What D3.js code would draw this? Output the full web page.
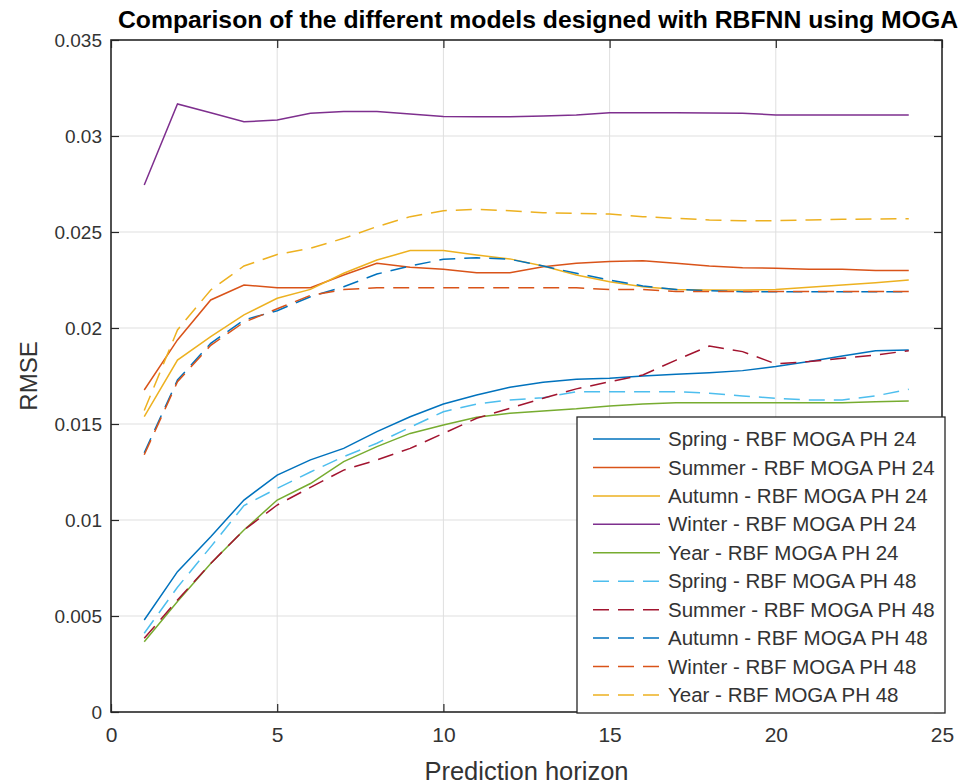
<!DOCTYPE html>
<html>
<head>
<meta charset="utf-8">
<script src="https://cdn.jsdelivr.net/npm/d3@7"></script>
<style>
  html, body { margin: 0; padding: 0; background: #fff; }
  svg { display: block; }
  text { font-family: "Liberation Sans", Arial, Helvetica, sans-serif; }
</style>
</head>
<body>
<script>
// ---------------- DATA ----------------
const horizon = [1,2,3,4,5,6,7,8,9,10,11,12,13,14,15,16,17,18,19,20,21,22,23,24];

const springPH24 = [0.00479,0.00731,0.00913,0.01104,0.01234,0.01313,0.01373,0.01460,0.01538,0.01604,0.01651,0.01691,0.01717,0.01733,0.01738,0.01750,0.01759,0.01767,0.01778,0.01799,0.01825,0.01854,0.01882,0.01885];
const summerPH24 = [0.01677,0.01938,0.02146,0.02224,0.02210,0.02210,0.02276,0.02337,0.02316,0.02306,0.02288,0.02288,0.02319,0.02337,0.02346,0.02350,0.02337,0.02323,0.02314,0.02311,0.02306,0.02306,0.02300,0.02299];
const autumnPH24 = [0.01538,0.01833,0.01955,0.02068,0.02155,0.02201,0.02285,0.02354,0.02403,0.02403,0.02380,0.02360,0.02323,0.02276,0.02241,0.02215,0.02201,0.02198,0.02198,0.02200,0.02212,0.02224,0.02236,0.02250];
const winterPH24 = [0.02745,0.03167,0.03121,0.03074,0.03083,0.03118,0.03127,0.03127,0.03115,0.03101,0.03100,0.03100,0.03104,0.03110,0.03121,0.03121,0.03121,0.03120,0.03118,0.03110,0.03110,0.03110,0.03110,0.03110];
const yearPH24   = [0.00366,0.00575,0.00774,0.00948,0.01104,0.01190,0.01304,0.01382,0.01451,0.01495,0.01535,0.01556,0.01568,0.01579,0.01594,0.01604,0.01611,0.01611,0.01611,0.01611,0.01611,0.01611,0.01616,0.01620];
const springPH48 = [0.00410,0.00650,0.00860,0.01075,0.01165,0.01250,0.01330,0.01400,0.01483,0.01564,0.01604,0.01625,0.01637,0.01668,0.01668,0.01668,0.01668,0.01660,0.01646,0.01634,0.01625,0.01625,0.01646,0.01681];
const summerPH48 = [0.00384,0.00583,0.00774,0.00948,0.01078,0.01170,0.01260,0.01313,0.01373,0.01451,0.01530,0.01582,0.01634,0.01683,0.01720,0.01755,0.01833,0.01906,0.01877,0.01813,0.01825,0.01842,0.01859,0.01882];
const autumnPH48 = [0.01350,0.01729,0.01920,0.02042,0.02090,0.02163,0.02215,0.02281,0.02323,0.02358,0.02366,0.02358,0.02323,0.02285,0.02250,0.02219,0.02201,0.02194,0.02189,0.02189,0.02189,0.02189,0.02189,0.02189];
const winterPH48 = [0.01340,0.01720,0.01910,0.02030,0.02100,0.02170,0.02200,0.02210,0.02210,0.02210,0.02210,0.02210,0.02210,0.02210,0.02200,0.02200,0.02190,0.02190,0.02190,0.02190,0.02190,0.02190,0.02190,0.02190];
const yearPH48   = [0.01570,0.01990,0.02198,0.02323,0.02383,0.02415,0.02467,0.02528,0.02580,0.02611,0.02618,0.02611,0.02600,0.02597,0.02594,0.02580,0.02571,0.02563,0.02559,0.02559,0.02563,0.02566,0.02568,0.02569];

const seriesNames = [
  "Spring - RBF MOGA PH 24","Summer - RBF MOGA PH 24","Autumn - RBF MOGA PH 24",
  "Winter - RBF MOGA PH 24","Year - RBF MOGA PH 24",
  "Spring - RBF MOGA PH 48","Summer - RBF MOGA PH 48","Autumn - RBF MOGA PH 48",
  "Winter - RBF MOGA PH 48","Year - RBF MOGA PH 48"
];
const seriesValues = [springPH24, summerPH24, autumnPH24, winterPH24, yearPH24,
                      springPH48, summerPH48, autumnPH48, winterPH48, yearPH48];
const seriesColors = ["#0072BD","#D95319","#EDB120","#7E2F8E","#77AC30",
                      "#4DBEEE","#A2142F","#0072BD","#D95319","#EDB120"];
const seriesDashed = [false,false,false,false,false,true,true,true,true,true];

const xTicks = [0,5,10,15,20,25];
const yTicks = [0,0.005,0.01,0.015,0.02,0.025,0.03,0.035];
const yTickLabels = ["0","0.005","0.01","0.015","0.02","0.025","0.03","0.035"];

const titleText = "Comparison of the different models designed with RBFNN using MOGA";
const xLabelText = "Prediction horizon";
const yLabelText = "RMSE";

// ---------------- LAYOUT ----------------
const W = 964, H = 784;
const plot = { left: 111, right: 942, top: 40, bottom: 712 };
const axisColor = "#262626";
const textColor = "#333333";

const svg = d3.select("body").append("svg").attr("width", W).attr("height", H);
svg.append("rect").attr("width", W).attr("height", H).attr("fill", "#fff");

const x = d3.scaleLinear().domain([0, 25]).range([plot.left, plot.right]);
const y = d3.scaleLinear().domain([0, 0.035]).range([plot.bottom, plot.top]);

// grid
const grid = svg.append("g");
grid.selectAll("line.gx").data(xTicks.slice(1, -1)).join("line")
  .attr("x1", d => x(d)).attr("x2", d => x(d))
  .attr("y1", plot.top).attr("y2", plot.bottom)
  .attr("stroke", "#dfdfdf").attr("stroke-width", 1);
grid.selectAll("line.gy").data(yTicks.slice(1, -1)).join("line")
  .attr("y1", d => y(d)).attr("y2", d => y(d))
  .attr("x1", plot.left).attr("x2", plot.right)
  .attr("stroke", "#dfdfdf").attr("stroke-width", 1);

// lines
const line = d3.line().x((d, i) => x(horizon[i])).y(d => y(d));
const linesG = svg.append("g");
seriesValues.forEach((vals, k) => {
  linesG.append("path")
    .attr("d", line(vals))
    .attr("fill", "none")
    .attr("stroke", seriesColors[k])
    .attr("stroke-width", 1.5)
    .attr("stroke-dasharray", seriesDashed[k] ? "16,9" : null);
});

// axes
function styleAxis(g, fs) {
  g.selectAll(".domain").remove();
  g.selectAll(".tick line").attr("stroke", axisColor).attr("stroke-width", 1.2);
  g.selectAll(".tick text").attr("fill", textColor)
    .style("font-size", fs + "px")
    .style("font-family", "'Liberation Sans', Arial, sans-serif");
}
const xAxisB = svg.append("g").attr("transform", `translate(0,${plot.bottom})`)
  .call(d3.axisBottom(x).tickValues(xTicks).tickSize(-8).tickPadding(15).tickFormat(d3.format("d")));
styleAxis(xAxisB, 21);
const xAxisT = svg.append("g").attr("transform", `translate(0,${plot.top})`)
  .call(d3.axisTop(x).tickValues(xTicks).tickSize(-8).tickFormat(""));
styleAxis(xAxisT, 21);
const yAxisL = svg.append("g").attr("transform", `translate(${plot.left},0)`)
  .call(d3.axisLeft(y).tickValues(yTicks).tickSize(-8).tickPadding(9)
    .tickFormat((d, i) => yTickLabels[i]));
styleAxis(yAxisL, 19);
const yAxisR = svg.append("g").attr("transform", `translate(${plot.right},0)`)
  .call(d3.axisRight(y).tickValues(yTicks).tickSize(-8).tickFormat(""));
styleAxis(yAxisR, 19);

// box
svg.append("rect")
  .attr("x", plot.left).attr("y", plot.top)
  .attr("width", plot.right - plot.left).attr("height", plot.bottom - plot.top)
  .attr("fill", "none").attr("stroke", axisColor).attr("stroke-width", 1.6);

// title & labels
svg.append("text")
  .attr("x", 538).attr("y", 28)
  .attr("text-anchor", "middle")
  .attr("textLength", 840).attr("lengthAdjust", "spacingAndGlyphs")
  .style("font-size", "24px").style("font-weight", "bold").attr("fill", "#000")
  .text(titleText);
svg.append("text")
  .attr("x", (plot.left + plot.right) / 2).attr("y", 780)
  .attr("text-anchor", "middle")
  .style("font-size", "25.5px").attr("fill", textColor)
  .text(xLabelText);
svg.append("text")
  .attr("transform", `translate(37,${(plot.top + plot.bottom) / 2}) rotate(-90)`)
  .attr("text-anchor", "middle")
  .style("font-size", "24px").attr("fill", textColor)
  .text(yLabelText);

// legend
const leg = { x: 577, y: 417, w: 368, h: 296, row0: 439, step: 28.44 };
const lg = svg.append("g");
lg.append("rect").attr("x", leg.x).attr("y", leg.y).attr("width", leg.w).attr("height", leg.h)
  .attr("fill", "#fff").attr("stroke", axisColor).attr("stroke-width", 1.3);
seriesNames.forEach((name, k) => {
  const cy = leg.row0 + k * leg.step;
  lg.append("line").attr("x1", 593).attr("x2", 660).attr("y1", cy).attr("y2", cy)
    .attr("stroke", seriesColors[k]).attr("stroke-width", 1.5)
    .attr("stroke-dasharray", seriesDashed[k] ? "16,9" : null);
  lg.append("text").attr("x", 668).attr("y", cy).attr("dy", "0.35em")
    .style("font-size", "20.5px").attr("fill", textColor).text(name);
});
</script>
</body>
</html>
